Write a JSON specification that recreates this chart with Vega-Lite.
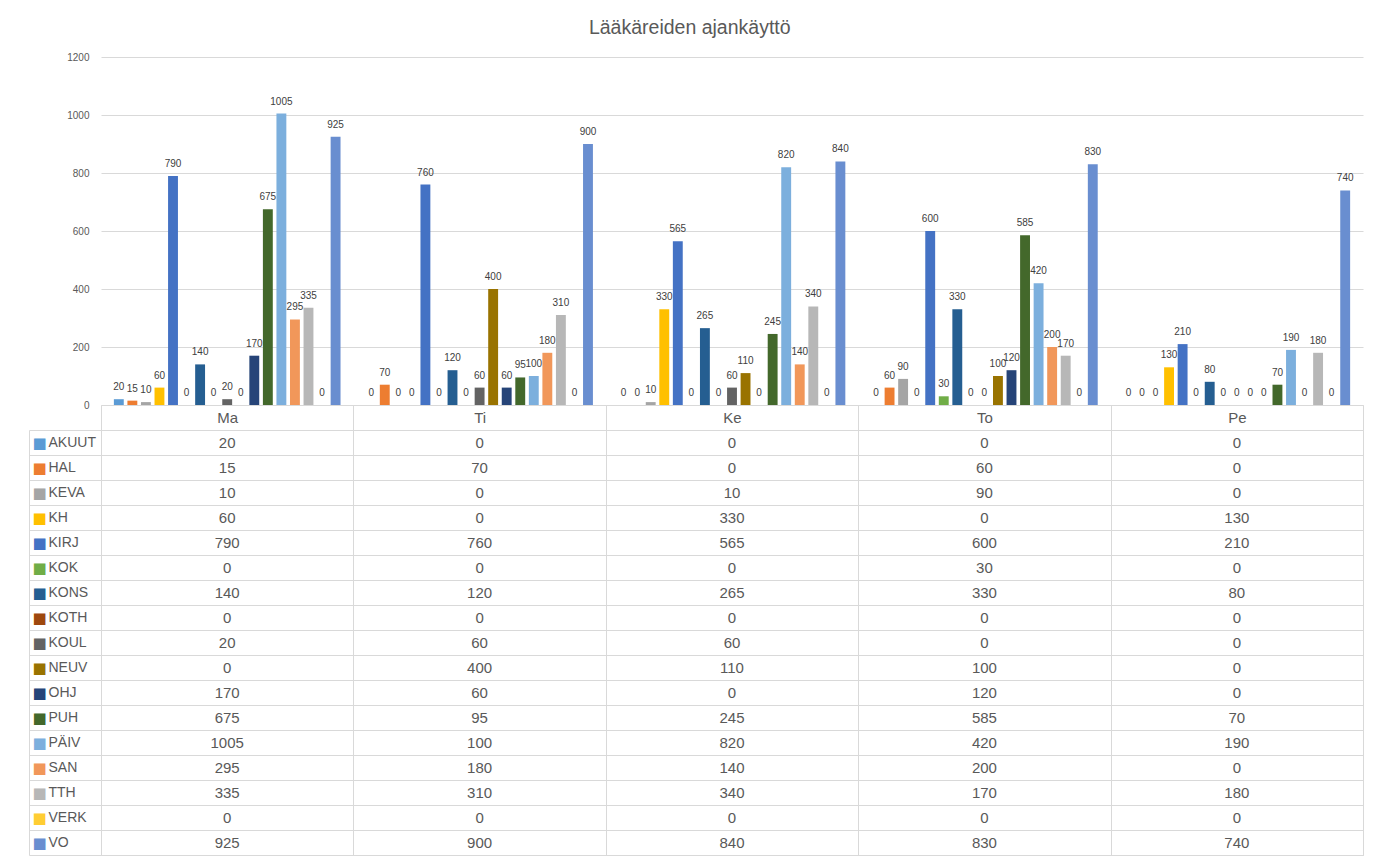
{
  "$schema": "https://vega.github.io/schema/vega-lite/v6.json",
  "padding": {"left": 28, "top": 17, "right": 0, "bottom": 0},
  "background": "white",
  "title": {"text": "Lääkäreiden ajankäyttö", "fontSize": 19.5, "fontWeight": "normal", "color": "#595959", "anchor": "middle", "dx": -6, "offset": 14},
  "config": {"font": "Liberation Sans"},
  "bounds": "flush",
  "spacing": 25,
  "datasets": {
    "d": [
      {"day": "Ma", "series": "AKUUT", "value": 20}, {"day": "Ti", "series": "AKUUT", "value": 0}, {"day": "Ke", "series": "AKUUT", "value": 0}, {"day": "To", "series": "AKUUT", "value": 0}, {"day": "Pe", "series": "AKUUT", "value": 0},
      {"day": "Ma", "series": "HAL", "value": 15}, {"day": "Ti", "series": "HAL", "value": 70}, {"day": "Ke", "series": "HAL", "value": 0}, {"day": "To", "series": "HAL", "value": 60}, {"day": "Pe", "series": "HAL", "value": 0},
      {"day": "Ma", "series": "KEVA", "value": 10}, {"day": "Ti", "series": "KEVA", "value": 0}, {"day": "Ke", "series": "KEVA", "value": 10}, {"day": "To", "series": "KEVA", "value": 90}, {"day": "Pe", "series": "KEVA", "value": 0},
      {"day": "Ma", "series": "KH", "value": 60}, {"day": "Ti", "series": "KH", "value": 0}, {"day": "Ke", "series": "KH", "value": 330}, {"day": "To", "series": "KH", "value": 0}, {"day": "Pe", "series": "KH", "value": 130},
      {"day": "Ma", "series": "KIRJ", "value": 790}, {"day": "Ti", "series": "KIRJ", "value": 760}, {"day": "Ke", "series": "KIRJ", "value": 565}, {"day": "To", "series": "KIRJ", "value": 600}, {"day": "Pe", "series": "KIRJ", "value": 210},
      {"day": "Ma", "series": "KOK", "value": 0}, {"day": "Ti", "series": "KOK", "value": 0}, {"day": "Ke", "series": "KOK", "value": 0}, {"day": "To", "series": "KOK", "value": 30}, {"day": "Pe", "series": "KOK", "value": 0},
      {"day": "Ma", "series": "KONS", "value": 140}, {"day": "Ti", "series": "KONS", "value": 120}, {"day": "Ke", "series": "KONS", "value": 265}, {"day": "To", "series": "KONS", "value": 330}, {"day": "Pe", "series": "KONS", "value": 80},
      {"day": "Ma", "series": "KOTH", "value": 0}, {"day": "Ti", "series": "KOTH", "value": 0}, {"day": "Ke", "series": "KOTH", "value": 0}, {"day": "To", "series": "KOTH", "value": 0}, {"day": "Pe", "series": "KOTH", "value": 0},
      {"day": "Ma", "series": "KOUL", "value": 20}, {"day": "Ti", "series": "KOUL", "value": 60}, {"day": "Ke", "series": "KOUL", "value": 60}, {"day": "To", "series": "KOUL", "value": 0}, {"day": "Pe", "series": "KOUL", "value": 0},
      {"day": "Ma", "series": "NEUV", "value": 0}, {"day": "Ti", "series": "NEUV", "value": 400}, {"day": "Ke", "series": "NEUV", "value": 110}, {"day": "To", "series": "NEUV", "value": 100}, {"day": "Pe", "series": "NEUV", "value": 0},
      {"day": "Ma", "series": "OHJ", "value": 170}, {"day": "Ti", "series": "OHJ", "value": 60}, {"day": "Ke", "series": "OHJ", "value": 0}, {"day": "To", "series": "OHJ", "value": 120}, {"day": "Pe", "series": "OHJ", "value": 0},
      {"day": "Ma", "series": "PUH", "value": 675}, {"day": "Ti", "series": "PUH", "value": 95}, {"day": "Ke", "series": "PUH", "value": 245}, {"day": "To", "series": "PUH", "value": 585}, {"day": "Pe", "series": "PUH", "value": 70},
      {"day": "Ma", "series": "PÄIV", "value": 1005}, {"day": "Ti", "series": "PÄIV", "value": 100}, {"day": "Ke", "series": "PÄIV", "value": 820}, {"day": "To", "series": "PÄIV", "value": 420}, {"day": "Pe", "series": "PÄIV", "value": 190},
      {"day": "Ma", "series": "SAN", "value": 295}, {"day": "Ti", "series": "SAN", "value": 180}, {"day": "Ke", "series": "SAN", "value": 140}, {"day": "To", "series": "SAN", "value": 200}, {"day": "Pe", "series": "SAN", "value": 0},
      {"day": "Ma", "series": "TTH", "value": 335}, {"day": "Ti", "series": "TTH", "value": 310}, {"day": "Ke", "series": "TTH", "value": 340}, {"day": "To", "series": "TTH", "value": 170}, {"day": "Pe", "series": "TTH", "value": 180},
      {"day": "Ma", "series": "VERK", "value": 0}, {"day": "Ti", "series": "VERK", "value": 0}, {"day": "Ke", "series": "VERK", "value": 0}, {"day": "To", "series": "VERK", "value": 0}, {"day": "Pe", "series": "VERK", "value": 0},
      {"day": "Ma", "series": "VO", "value": 925}, {"day": "Ti", "series": "VO", "value": 900}, {"day": "Ke", "series": "VO", "value": 840}, {"day": "To", "series": "VO", "value": 830}, {"day": "Pe", "series": "VO", "value": 740}
    ]
  },
  "vconcat": [
    {
      "width": 1262,
      "height": 348,
      "view": {"stroke": null},
      "data": {"name": "d"},
      "encoding": {
        "x": {"field": "day", "type": "nominal", "sort": ["Ma", "Ti", "Ke", "To", "Pe"], "scale": {"paddingInner": 0, "paddingOuter": 0},
          "axis": {"title": null, "labelAngle": 0, "labelFontSize": 15, "labelColor": "#595959", "domainColor": "#d9d9d9", "tickColor": "#d9d9d9", "tickSize": 25, "tickBand": "extent", "labelPadding": -20, "grid": false}},
        "xOffset": {"field": "series", "type": "nominal", "sort": ["AKUUT", "HAL", "KEVA", "KH", "KIRJ", "KOK", "KONS", "KOTH", "KOUL", "NEUV", "OHJ", "PUH", "PÄIV", "SAN", "TTH", "VERK", "VO"], "scale": {"paddingInner": 0.27, "paddingOuter": 0.95}},
        "y": {"field": "value", "type": "quantitative", "scale": {"domain": [0, 1200]},
          "axis": {"title": null, "values": [0, 200, 400, 600, 800, 1000, 1200], "format": "d", "domain": false, "ticks": false, "labelFontSize": 10, "labelColor": "#595959", "labelPadding": 12, "gridColor": "#d9d9d9"}}
      },
      "layer": [
        {
          "mark": {"type": "bar"},
          "encoding": {
            "color": {"field": "series", "type": "nominal", "legend": null,
              "scale": {"domain": ["AKUUT", "HAL", "KEVA", "KH", "KIRJ", "KOK", "KONS", "KOTH", "KOUL", "NEUV", "OHJ", "PUH", "PÄIV", "SAN", "TTH", "VERK", "VO"],
                "range": ["#5B9BD5", "#ED7D31", "#A5A5A5", "#FFC000", "#4472C4", "#70AD47", "#255E91", "#9E480E", "#636363", "#997300", "#264478", "#43682B", "#7CAFDD", "#F1975A", "#B7B7B7", "#FFCD33", "#698ED0"]}}
          }
        },
        {
          "mark": {"type": "text", "baseline": "alphabetic", "dy": -9, "fontSize": 10, "color": "#404040"},
          "encoding": {"text": {"field": "value", "type": "quantitative"}}
        }
      ]
    },
    {
      "width": 1262,
      "height": 425,
      "view": {"stroke": "#d9d9d9"},
      "data": {"name": "d"},
      "encoding": {
        "x": {"field": "day", "type": "nominal", "sort": ["Ma", "Ti", "Ke", "To", "Pe"], "scale": {"paddingInner": 0, "paddingOuter": 0},
          "axis": {"orient": "top", "title": null, "labels": false, "ticks": false, "domain": false, "grid": true, "tickBand": "extent", "gridColor": "#d9d9d9"}}
      },
      "layer": [
        {
          "mark": {"type": "text", "fontSize": 15, "color": "#595959"},
          "encoding": {
            "text": {"field": "value", "type": "quantitative"},
            "y": {"field": "series", "type": "nominal", "sort": ["AKUUT", "HAL", "KEVA", "KH", "KIRJ", "KOK", "KONS", "KOTH", "KOUL", "NEUV", "OHJ", "PUH", "PÄIV", "SAN", "TTH", "VERK", "VO"], "scale": {"paddingInner": 0, "paddingOuter": 0},
              "axis": {"orient": "left", "title": null, "domain": false, "ticks": true, "tickSize": 72, "tickColor": "#d9d9d9", "tickBand": "extent", "grid": true, "gridColor": "#d9d9d9", "labelAlign": "left", "labelPadding": -19, "labelFontSize": 14, "labelColor": "#595959", "labelBaseline": "middle"}}
          }
        },
        {
          "mark": {"type": "text", "opacity": 0},
          "encoding": {
            "text": {"field": "value", "type": "quantitative"},
            "y": {"field": "series", "type": "nominal", "sort": ["AKUUT", "HAL", "KEVA", "KH", "KIRJ", "KOK", "KONS", "KOTH", "KOUL", "NEUV", "OHJ", "PUH", "PÄIV", "SAN", "TTH", "VERK", "VO"], "scale": {"paddingInner": 0, "paddingOuter": 0},
              "axis": {"orient": "left", "offset": 72, "title": null, "domain": true, "domainColor": "#d9d9d9", "ticks": false, "grid": false, "labelExpr": "'■'", "labelAlign": "left", "labelPadding": -3, "labelFontSize": 15, "labelBaseline": "middle", "labelFont": "DejaVu Sans",
                "labelColor": {"condition": [
                  {"test": "datum.value === 'AKUUT'", "value": "#5B9BD5"},
                  {"test": "datum.value === 'HAL'", "value": "#ED7D31"},
                  {"test": "datum.value === 'KEVA'", "value": "#A5A5A5"},
                  {"test": "datum.value === 'KH'", "value": "#FFC000"},
                  {"test": "datum.value === 'KIRJ'", "value": "#4472C4"},
                  {"test": "datum.value === 'KOK'", "value": "#70AD47"},
                  {"test": "datum.value === 'KONS'", "value": "#255E91"},
                  {"test": "datum.value === 'KOTH'", "value": "#9E480E"},
                  {"test": "datum.value === 'KOUL'", "value": "#636363"},
                  {"test": "datum.value === 'NEUV'", "value": "#997300"},
                  {"test": "datum.value === 'OHJ'", "value": "#264478"},
                  {"test": "datum.value === 'PUH'", "value": "#43682B"},
                  {"test": "datum.value === 'PÄIV'", "value": "#7CAFDD"},
                  {"test": "datum.value === 'SAN'", "value": "#F1975A"},
                  {"test": "datum.value === 'TTH'", "value": "#B7B7B7"},
                  {"test": "datum.value === 'VERK'", "value": "#FFCD33"}
                ], "value": "#698ED0"}}}
          }
        }
      ],
      "resolve": {"axis": {"y": "independent"}}
    }
  ]
}
